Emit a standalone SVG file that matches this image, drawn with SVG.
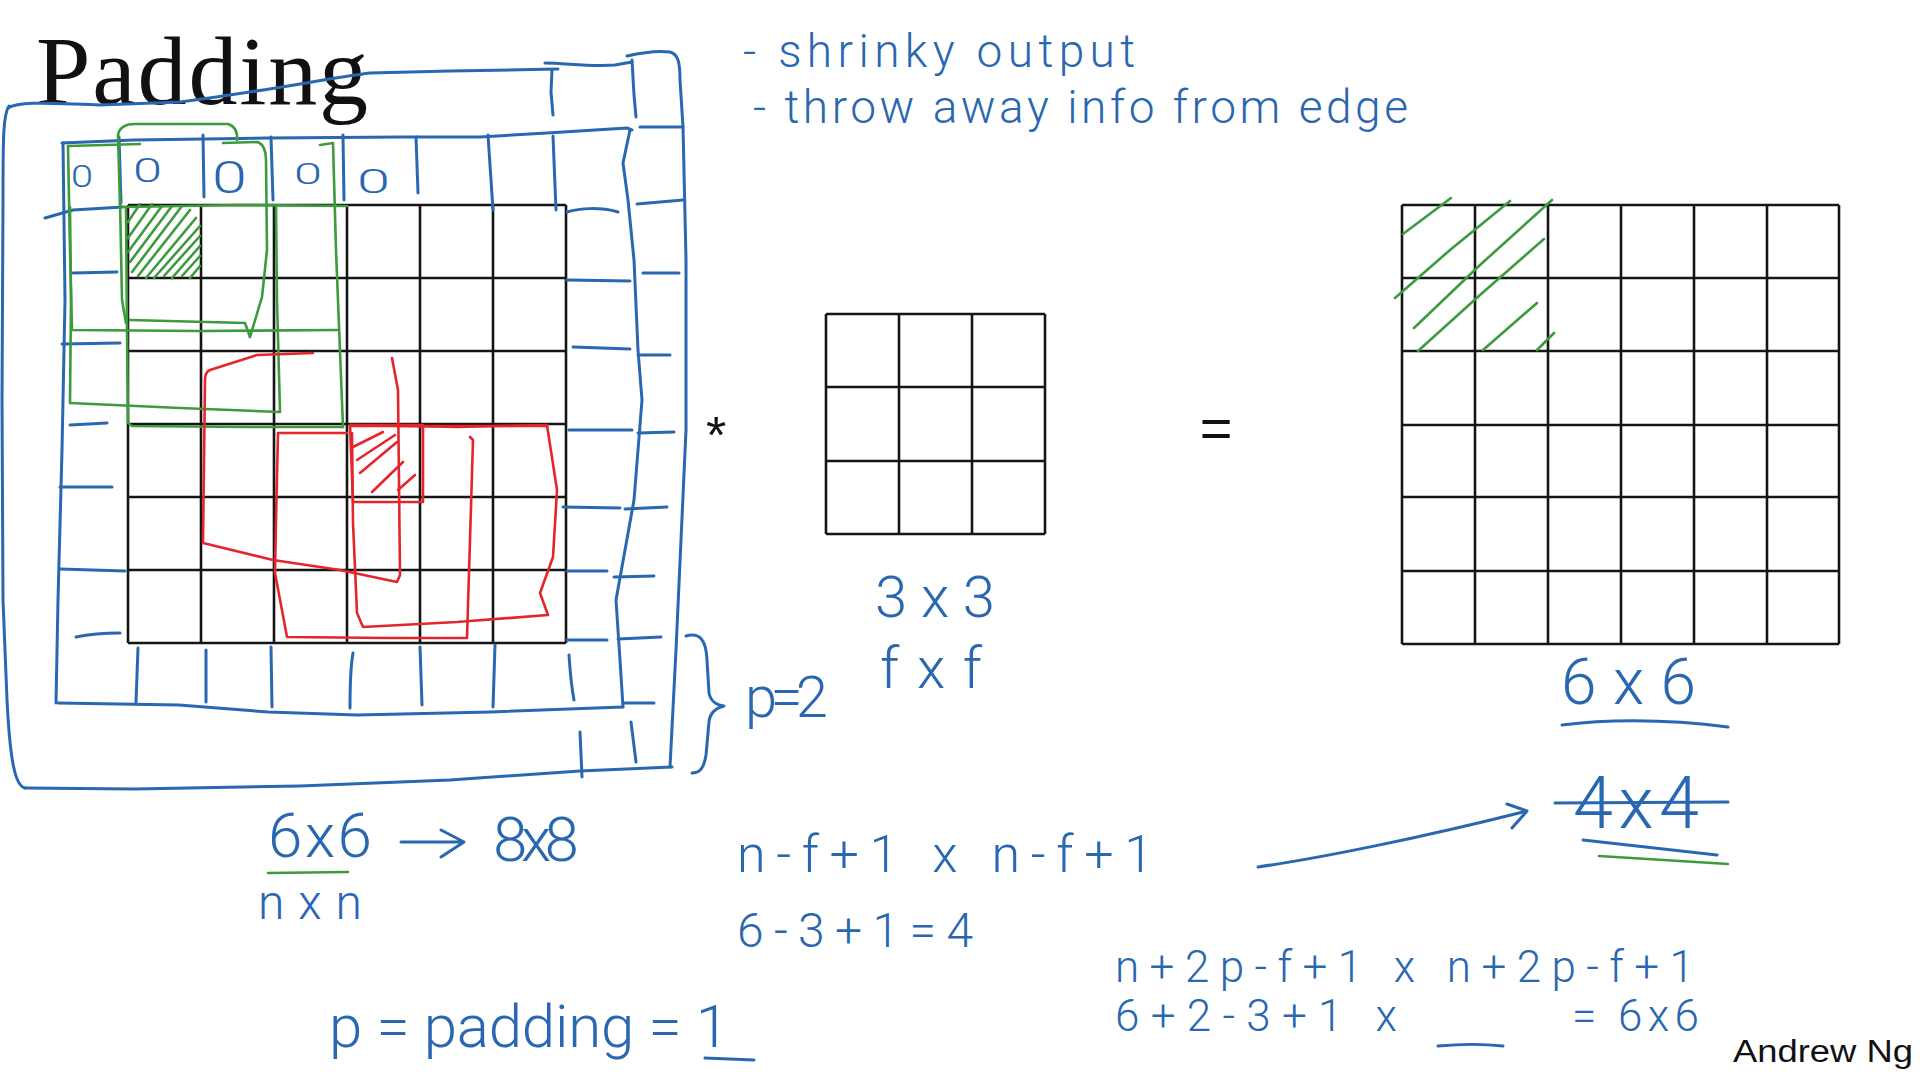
<svg xmlns="http://www.w3.org/2000/svg" width="1924" height="1076" viewBox="0 0 1924 1076">
<style>
.b{stroke:#2a67b1;stroke-width:3;fill:none;stroke-linecap:round;stroke-linejoin:round}
.g{stroke:#3d9b3d;stroke-width:2.6;fill:none;stroke-linecap:round;stroke-linejoin:round}
.r{stroke:#e3262b;stroke-width:2.6;fill:none;stroke-linecap:round;stroke-linejoin:round}
.k{stroke:#151515;stroke-width:2.6;fill:none}
.hw{font-family:Roboto,"Open Sans","Liberation Sans",sans-serif;font-weight:300;fill:#2a67b1}
</style>
<defs>
<clipPath id="c1"><rect x="125" y="202" width="78" height="78"/></clipPath>
</defs>
<rect width="1924" height="1076" fill="#fff"/>

<g id="title">
<text x="36" y="104" font-family="'Liberation Serif',serif" font-size="98" textLength="332" fill="#111">Padding</text>
</g>

<g id="input-grid">
<path class="k" d="M128,205V643M201,205V643M274,205V643M347,205V643M420,205V643M493,205V643M566,205V643M128,205H566M128,278H566M128,351H566M128,424H566M128,497H566M128,570H566M128,643H566"/>
</g>

<g id="padding-ring">
<path class="b" d="M8,108 C20,100 60,104 100,105 L180,102 C260,92 330,78 370,73 L450,71 L558,69"/>
<path class="b" d="M552,70 L551,92 L553,115"/>
<path class="b" d="M545,63 C565,63 590,67 615,65 L632,62"/>
<path class="b" d="M632,60 L634,95 L636,117"/>
<path class="b" d="M627,56 C640,53 655,50 670,52 C678,54 680,62 680,80 L683,127 L686,260 L686,430 L681,540 L676,650 L670,767"/>
<path class="b" d="M9,106 C3,115 3,140 3,200 L2,400 L3,600 L7,700 C10,760 15,786 25,788"/>
<path class="b" d="M25,788 L134,789 L300,786 L450,780 L580,771 L672,767"/>
<path class="b" d="M580,732 L582,777M631,722 L636,762"/>
<path class="b" d="M640,127 L683,127M637,204 L683,200M643,273 L679,273M638,355 L670,355M638,433 L674,432M625,509 L667,507M614,577 L654,576M618,639 L661,637M623,703 L654,703"/>
<path class="b" d="M62,143 L134,140 L268,138 L402,137 L480,137 L547,133 L627,128 L632,130"/>
<path class="b" d="M63,143 L65,300 L62,450 L58,600 L56,703"/>
<path class="b" d="M630,130 L623,163 L628,200 L634,260 L638,350 L642,400 L634,500 L616,600 L620,660 L623,707"/>
<path class="b" d="M58,703 L179,705 L268,712 L357,715 L491,712 L623,707"/>
<path class="b" d="M119,137 L121,203M203,135 L204,197M271,137 L273,200M343,135 L344,200M416,137 L418,193M488,135 L493,210M553,136 L556,210"/>
<path class="b" d="M45,218 L73,210 L123,207M73,273 L117,272M62,344 L120,343M70,425 L107,423M60,487 L112,487M60,569 L125,571M76,637 C90,634 105,633 120,633"/>
<path class="b" d="M567,212 C580,208 600,207 618,212M567,280 L630,281M573,347 L630,349M569,430 L632,430M563,507 L620,508M567,571 L607,571M567,640 L607,640"/>
<path class="b" d="M138,648 L136,702M206,650 L206,702M271,647 L272,707M353,653 C350,670 350,690 350,708M420,647 L422,705M495,645 L493,707M569,655 C570,670 572,690 574,700"/>
<text class="hw" x="71" y="187" font-size="32" textLength="22" lengthAdjust="spacingAndGlyphs">0</text>
<text class="hw" x="133" y="182" font-size="34" textLength="29" lengthAdjust="spacingAndGlyphs">0</text>
<text class="hw" x="212" y="193" font-size="45" textLength="35" lengthAdjust="spacingAndGlyphs">0</text>
<text class="hw" x="294" y="184" font-size="30" textLength="28" lengthAdjust="spacingAndGlyphs">0</text>
<text class="hw" x="357" y="193" font-size="33" textLength="33" lengthAdjust="spacingAndGlyphs">0</text>
</g>

<g id="green-windows">
<path class="g" d="M68,146 L140,144 M223,143 L258,142 Q266,146 266,160 L267,250 L262,297 L250,337"/>
<path class="g" d="M68,146 L70,250 L72,330 L200,331 L337,330"/>
<path class="g" d="M120,205 L118,135 Q120,124 135,124 L228,124 Q238,127 237,140"/>
<path class="g" d="M130,320 L245,323 L250,337"/>
<path class="g" d="M120,200 L122,300 L126,323"/>
<path class="g" d="M320,145 L333,143 L336,250 L343,427"/>
<path class="g" d="M70,207 L71,300 L70,403 L180,408 L280,412 L277,300 L276,207"/>
<path class="g" d="M123,207 L240,205 L347,206 M126,207 L127,330 L128,423 L132,426 L250,427 L343,427"/>
<g clip-path="url(#c1)" class="g" stroke-width="2.2">
<path d="M128,222 L140,204M128,238 L152,204M128,252 L162,206M130,262 L172,206M132,272 L182,206M138,276 L190,210M146,278 L196,218M154,278 L200,226M164,276 L200,236M172,278 L200,246M182,276 L200,256M190,278 L200,266"/>
</g>
<path class="g" d="M268,873 L348,872"/>
</g>

<g id="red-windows">
<path class="r" d="M313,353 L257,355 L210,370 Q205,372 205,380 L203,543 L273,560 L340,570 L397,582 L400,575 L398,390 L392,358"/>
<path class="r" d="M347,433 L278,433 L276,520 L275,573 L287,637 L390,638 L467,638 L470,540 L473,440 L470,437"/>
<path class="r" d="M350,425 L457,427 L547,425 L557,490 L553,557 L540,593 L548,615 L457,622 L363,627 L357,613 L353,523 L352,433"/>
<path class="r" d="M350,425 L423,425 L423,502 L353,502 Z"/>
<path class="r" stroke-width="3.5" d="M352,426 L547,426"/>
<path class="r" d="M353,447 L383,432M357,460 L395,435M360,473 L397,442M372,492 L403,462M398,490 L415,475"/>
</g>

<g id="kernel">
<path class="k" d="M826,314V534M899,314V534M972,314V534M1045,314V534M826,314H1045M826,387H1045M826,461H1045M826,534H1045"/>
</g>

<g id="operators">
<text x="716" y="453" font-family="'Liberation Sans',sans-serif" font-size="52" text-anchor="middle" fill="#111">*</text>
<text x="1216" y="447" font-family="'Liberation Sans',sans-serif" font-size="56" text-anchor="middle" fill="#111">=</text>
</g>

<g id="output-grid">
<path class="k" d="M1402,205V644M1475,205V644M1548,205V644M1621,205V644M1694,205V644M1767,205V644M1839,205V644M1402,205H1839M1402,278H1839M1402,351H1839M1402,425H1839M1402,497H1839M1402,571H1839M1402,644H1839"/>
<path class="g" stroke-width="2.2" d="M1403,234 L1451,198M1395,298 L1450,250 L1510,201M1414,328 L1480,265 L1552,200M1418,351 L1480,295 L1544,239M1483,350 L1537,303M1537,350 L1554,333"/>
</g>

<g id="notes">
<text class="hw" x="743" y="67" font-size="46" textLength="392">- shrinky output</text>
<text class="hw" x="753" y="123" font-size="46" textLength="655">- throw away info from edge</text>
<text class="hw" x="875" y="617" font-size="58" textLength="120">3x3</text>
<text class="hw" x="880" y="688" font-size="58" textLength="102">fxf</text>
<path class="b" d="M686,636 C700,632 706,640 707,660 L709,693 C711,702 716,705 724,706 C716,708 710,712 709,722 L706,755 C704,768 700,773 692,773"/>
<text class="hw" x="745" y="717" font-size="58" textLength="83">p=2</text>
<text class="hw" x="1561" y="704" font-size="64" textLength="135">6x6</text>
<path class="b" d="M1562,725 C1600,720 1660,718 1728,727"/>
<text class="hw" x="1573" y="828" font-size="72" textLength="126">4x4</text>
<path class="b" d="M1555,803 L1728,802"/>
<path class="b" d="M1583,840 L1717,855"/>
<path class="g" d="M1599,856 L1728,864"/>
<text class="hw" x="268" y="857" font-size="62" textLength="104">6x6</text>
<text class="hw" x="493" y="861" font-size="62" textLength="86">8x8</text>
<text class="hw" x="258" y="919" font-size="48" textLength="104">nxn</text>
<text class="hw" x="737" y="872" font-size="52" textLength="416">n-f+1  x n-f+1</text>
<text class="hw" x="737" y="947" font-size="48" textLength="236">6-3+1=4</text>
<text class="hw" x="329" y="1047" font-size="60" textLength="400">p = padding = 1</text>
<path class="b" d="M705,1058 L754,1060"/>
<text class="hw" x="1115" y="982" font-size="44" textLength="579">n+2p-f+1 x n+2p-f+1</text>
<text class="hw" x="1115" y="1031" font-size="44" textLength="282">6+2-3+1 x</text>
<path class="b" d="M1438,1046 C1460,1044 1485,1044 1503,1046"/>
<text class="hw" x="1572" y="1031" font-size="44" textLength="127">= 6x6</text>
<text x="1733" y="1062" font-family="'Liberation Sans',sans-serif" font-size="31" textLength="180" lengthAdjust="spacingAndGlyphs" fill="#111">Andrew Ng</text>
</g>

<g id="connectors">
<path class="b" d="M401,842 L461,842M441,830 L464,842 L441,857"/>
<path class="b" d="M1258,867 C1320,858 1420,838 1523,812"/>
<path class="b" d="M1507,804 L1527,811 L1512,828"/>
</g>
</svg>
